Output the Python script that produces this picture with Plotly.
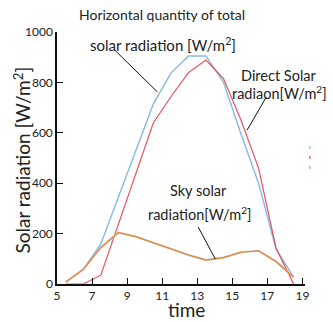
import plotly.graph_objects as go

hours = [5.5, 6.5, 7.5, 8.5, 9.5, 10.5, 11.5, 12.5, 13.5, 14.5, 15.5, 16.5, 17.5, 18.5]
global_rad = [8, 58, 159, 342, 530, 715, 837, 905, 905, 800, 595, 400, 138, 27]
direct_rad = [0, 0, 35, 235, 440, 640, 743, 839, 889, 815, 650, 460, 142, 0]
sky_rad = [8, 58, 145, 204, 188, 163, 138, 115, 95, 105, 126, 132, 89, 27]

x_ticks = [5, 7, 9, 11, 13, 15, 17, 19]
y_ticks = [0, 200, 400, 600, 800, 1000]

FONT = "Lato"
TXT = "#222222"

fig = go.Figure()
fig.add_trace(go.Scatter(x=hours, y=global_rad, mode="lines",
                         line=dict(color="#86b9e3", width=1.4), showlegend=False))
fig.add_trace(go.Scatter(x=hours, y=direct_rad, mode="lines",
                         line=dict(color="#e8525c", width=1.2), showlegend=False))
fig.add_trace(go.Scatter(x=hours, y=sky_rad, mode="lines",
                         line=dict(color="#c4c4c4", width=2.0), showlegend=False))
fig.add_trace(go.Scatter(x=hours, y=sky_rad, mode="lines",
                         line=dict(color="#f0822a", width=1.2), showlegend=False))

def ann(x, y, text, size=14, xref="x", yref="y", angle=0):
    fig.add_annotation(x=x, y=y, xref=xref, yref=yref, text=text, showarrow=False,
                       font=dict(family=FONT, size=size, color=TXT), textangle=angle,
                       xanchor="center", yanchor="middle")

ann(0.425, 1.071, "Horizontal quantity of total", 14, xref="paper", yref="paper")
ann(11.07, 952, "solar radiation [W/m<sup>2</sup>]", 15)
ann(17.68, 828, "Direct Solar", 14.5)
ann(17.68, 760, "radiaon[W/m<sup>2</sup>]", 14.5)
ann(13.06, 373, "Sky solar", 14.5)
ann(13.12, 280, "radiation[W/m<sup>2</sup>]", 14.5)
# axis titles
ann(-0.141, 0.49, "Solar radiation [W/m<sup>2</sup>]", 19, xref="paper", yref="paper", angle=-90)
ann(0.524, -0.103, "time", 19, xref="paper", yref="paper")

leaders = [((8.28, 929), (10.73, 762)),
           ((16.94, 742), (15.85, 611)),
           ((13.06, 226), (14.03, 99))]
for (x0, y0), (x1, y1) in leaders:
    fig.add_shape(type="line", xref="x", yref="y", x0=x0, y0=y0, x1=x1, y1=y1,
                  line=dict(color="#111111", width=1))

# tiny legend marks on the right
for i, c in enumerate(["#86b9e3", "#e8525c", "#f0a050"]):
    fig.add_shape(type="rect", xref="paper", yref="paper",
                  x0=1.017, x1=1.022,
                  y0=(284 - 149 - 10 * i) / 252, y1=(284 - 146 - 10 * i) / 252,
                  line=dict(width=0), fillcolor=c)

fig.update_xaxes(range=[5, 19.15], tickvals=x_ticks, ticks="inside", ticklen=6,
                 tickcolor="#111", tickwidth=1.2, showline=True, linecolor="#111",
                 linewidth=1.5, showgrid=False, zeroline=False, automargin=False,
                 tickfont=dict(family=FONT, size=12, color=TXT))
fig.update_yaxes(range=[0, 1000], tickvals=y_ticks, ticks="inside", ticklen=6,
                 tickcolor="#111", tickwidth=1.2, showline=True, linecolor="#111",
                 linewidth=1.5, showgrid=False, zeroline=False, automargin=False,
                 tickfont=dict(family=FONT, size=12, color=TXT))

fig.update_layout(width=333, height=322, margin=dict(l=57, r=28, t=32, b=38),
                  plot_bgcolor="white", paper_bgcolor="white", showlegend=False)

fig.write_html("out.html")
